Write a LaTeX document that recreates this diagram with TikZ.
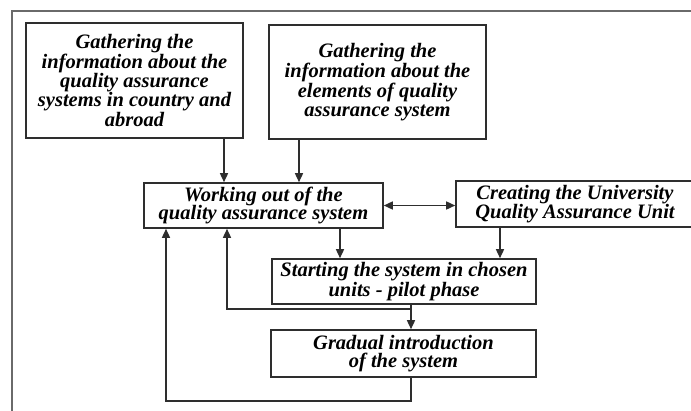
\documentclass[tikz,border=0pt]{standalone}
\usepackage{fontspec}
\setmainfont{Liberation Serif}
\usetikzlibrary{arrows.meta}
\definecolor{lineC}{HTML}{2E2E2E}
\definecolor{frameC}{HTML}{6A6A6A}
\tikzset{
  box/.style={draw=lineC, line width=1.6pt, rectangle, inner sep=1pt, align=center,
    font=\fontsize{20.5}{18.6}\selectfont\bfseries\itshape, text=black},
  arr/.style={draw=lineC, line width=1.5pt, -{Triangle[length=9pt,width=8pt]}},
  arrtwo/.style={draw=lineC, line width=1.5pt, {Triangle[length=9pt,width=8pt]}-{Triangle[length=9pt,width=8pt]}},
  frame/.style={draw=frameC, line width=1.6pt}
}
\begin{document}
\begin{tikzpicture}[x=1pt,y=-1pt]
\clip (0,0) rectangle (691,410);
\fill[white] (0,0) rectangle (691,410);
\draw[frame] (12,412) -- (12,11) -- (693,11);

\node[box, minimum width=217pt, minimum height=115pt] (A) at (134.5,80.5)
  {Gathering the\\information about the\\quality assurance\\systems in country and\\abroad};
\node[box, minimum width=217pt, minimum height=114pt] (B) at (377.5,82)
  {Gathering the\\information about the\\elements of quality\\assurance system};
\node[box, minimum width=239pt, minimum height=45pt] (C) at (263.5,205.5)
  {Working out of the\\quality assurance system};
\node[box, minimum width=238pt, minimum height=46pt] (D) at (575,204)
  {Creating the University\\Quality Assurance Unit};
\node[box, minimum width=264pt, minimum height=45pt] (E) at (404,281.5)
  {Starting the system in chosen\\units - pilot phase};
\node[box, minimum width=265pt, minimum height=47pt] (F) at (403.5,353.5)
  {Gradual introduction\\of the system};

\coordinate (xa) at (224,0);
\coordinate (xb) at (299,0);
\coordinate (xc) at (340,0);
\coordinate (xd) at (500,0);
\coordinate (xf) at (411,0);
\coordinate (xg) at (227,0);
\coordinate (xh) at (166,0);
\coordinate (yg) at (0,309);
\coordinate (yh) at (0,401);

\draw[arr] (A.south -| xa) -- (C.north -| xa);
\draw[arr] (B.south -| xb) -- (C.north -| xb);
\draw[arrtwo] (C.east) -- (C.east -| D.west);
\draw[arr] (C.south -| xc) -- (E.north -| xc);
\draw[arr] (D.south -| xd) -- (E.north -| xd);
\draw[arr] (E.south -| xf) -- (F.north -| xf);
\draw[arr] (E.south -| xf) -- (xf |- yg) -| (C.south -| xg);
\draw[arr] (F.south -| xf) -- (xf |- yh) -| (C.south -| xh);
\end{tikzpicture}
\end{document}
